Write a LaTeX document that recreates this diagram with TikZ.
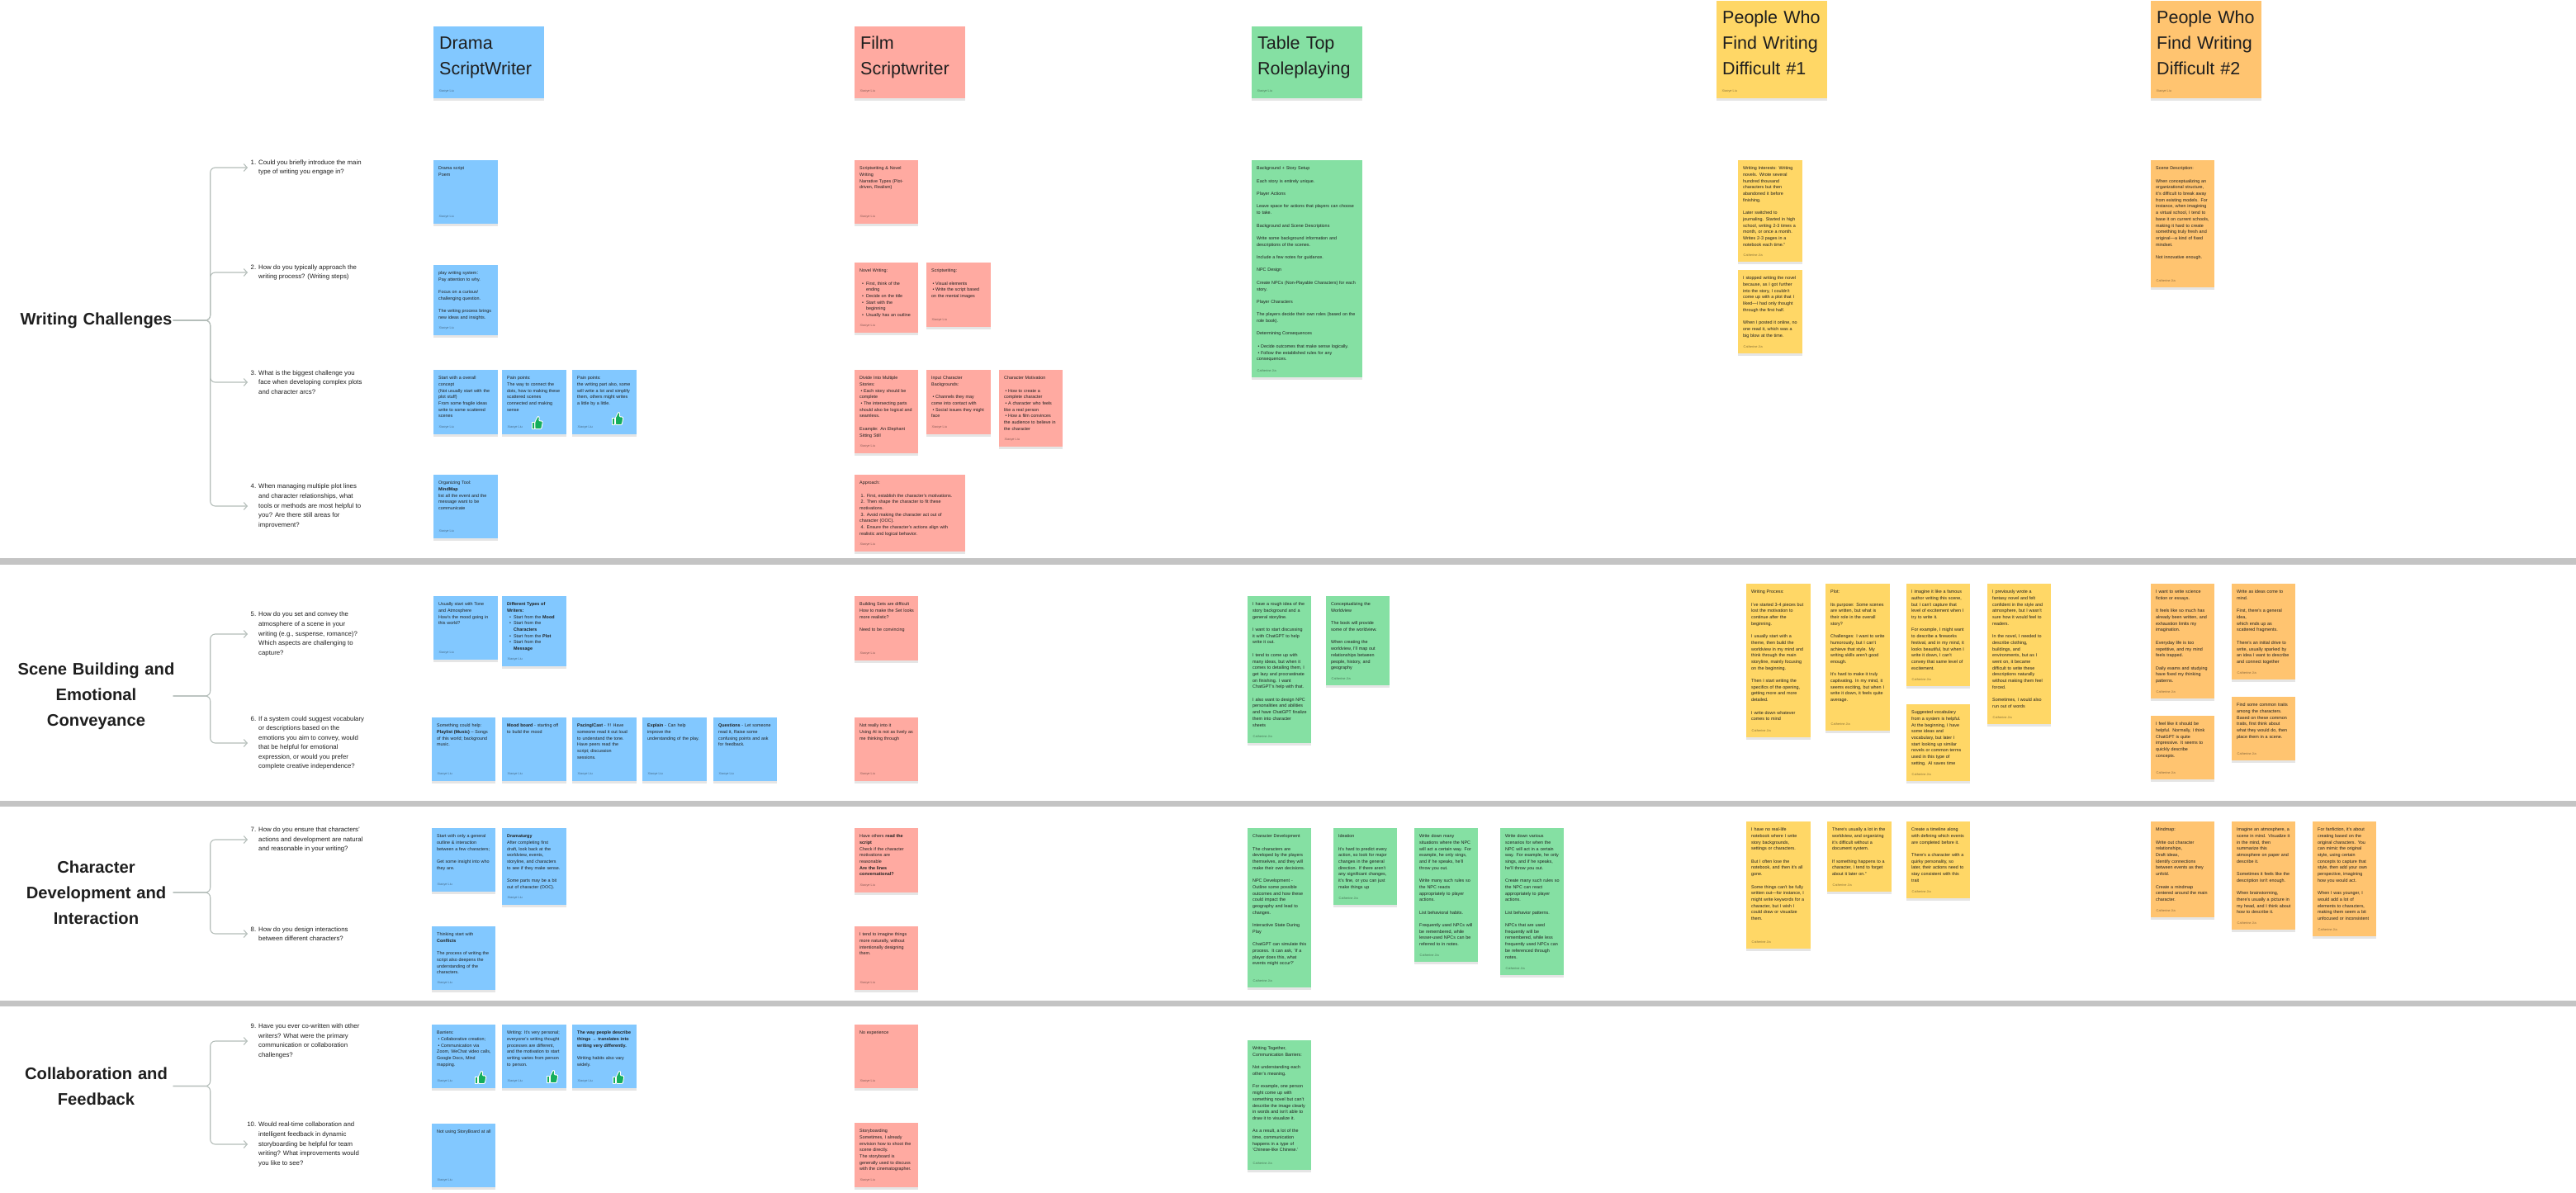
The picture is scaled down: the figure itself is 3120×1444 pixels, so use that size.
\documentclass[tikz,border=0pt]{standalone}
\usepackage{fontspec}
\setmainfont{Liberation Sans}
\newfontfamily\cjk{Noto Sans CJK SC}
\usetikzlibrary{arrows.meta,positioning,shadows}
\definecolor{noteblue}{HTML}{82C8FF}
\definecolor{notered}{HTML}{FFAAA1}
\definecolor{notegreen}{HTML}{85E0A3}
\definecolor{noteyellow}{HTML}{FFD766}
\definecolor{noteorange}{HTML}{FFC470}
\definecolor{inkdark}{HTML}{1E1E1E}
\definecolor{linkgrey}{HTML}{B4BDB9}
\definecolor{bargrey}{HTML}{C4C4C4}
\definecolor{thumbgreen}{HTML}{14AE5C}
\newcommand{\gapl}{\\[7.7pt]}
\newcommand{\qn}[1]{\makebox[13pt][r]{#1\hspace{3pt}}}
\newcommand{\qi}{\hspace*{13pt}}
\newcommand{\bl}{\hspace*{1.5pt}\textbullet\hspace{1.5pt}}
\newcommand{\bm}{\hspace*{3pt}\textbullet\hspace{3pt}}
\newcommand{\bc}{\hspace*{8pt}}

\begin{document}
\begin{tikzpicture}[
    x=1pt, y=-1pt,
    note/.style 2 args={anchor=north west, inner xsep=6pt, inner ysep=6pt, text=inkdark, align=left,
                font=\fontsize{5.4}{7.7}\selectfont, text height=5.5pt,
                text width={#1pt-12pt}, text depth={#2pt-17.5pt},
                execute at begin node={\rightskip=-6pt plus 1fil\relax},
                drop shadow={shadow xshift=0pt, shadow yshift=-2.5pt, opacity=.1, fill=black}},
    head/.style 2 args={anchor=north west, inner xsep=7pt, inner ysep=7pt, text=inkdark, align=left,
                font=\fontsize{21.5}{30.7}\selectfont, text height=20.5pt,
                text width=120pt, text depth={#2pt-34.5pt},
                drop shadow={shadow xshift=0pt, shadow yshift=-2.5pt, opacity=.1, fill=black}},
    sign/.style={above right=6.5pt and 6.5pt of #1.south west, inner sep=0pt, text=black, text opacity=.45,
                font=\fontsize{3.9}{4.5}\selectfont},
    topic/.style={align=center, text width=186pt, inner sep=0pt, text=inkdark,
                font=\fontsize{20.2}{31}\selectfont\bfseries},
    ask/.style={anchor=west, align=left, inner sep=0pt, text=inkdark, font=\fontsize{7.8}{11.55}\selectfont},
    link/.style={-{Straight Barb[length=4pt,width=9pt]}, line width=1.1pt, color=linkgrey, rounded corners=6pt},
    bar/.style={fill=bargrey},
    thumb/.pic={
      \path[fill=thumbgreen, draw=white, line width=.9pt, line join=round]
        (-6.5,-1) rectangle (-3.4,7.5);
      \path[fill=thumbgreen, draw=white, line width=.9pt, line join=round, rounded corners=1pt]
        (-2.6,-1) -- (0.4,-7) -- (1.8,-8) -- (2.8,-6.5) -- (2.2,-2.2) -- (6,-2.2) -- (6.8,-.6) -- (5.2,7.5) -- (-2.6,7.5) -- cycle;
    }
  ]
  \useasboundingbox (0,0) rectangle (3120,1444);

  % section bars
  \fill[bar] (0,676) rectangle (3120,684);
  \fill[bar] (0,970) rectangle (3120,977);
  \fill[bar] (0,1212) rectangle (3120,1219);

  % topics
  \node[topic] (wc) at (116.5,388) {Writing Challenges};
  \node[topic] (sb) at (116.5,843) {\makebox[186pt][c]{Scene Building and}\\Emotional\\Conveyance};
  \node[topic] (cd) at (116.5,1081) {Character\\Development and\\Interaction};
  \node[topic] (cf) at (116.5,1315.5) {Collaboration and\\Feedback};

  % questions
  \node[ask] (q1) at (300,203) {\qn{1.}Could you briefly introduce the main\\\qi type of writing you engage in?};
  \node[ask] (q2) at (300,330) {\qn{2.}How do you typically approach the\\\qi writing process? (Writing steps)};
  \node[ask] (q3) at (300,463) {\qn{3.}What is the biggest challenge you\\\qi face when developing complex plots\\\qi and character arcs?};
  \node[ask] (q4) at (300,613) {\qn{4.}When managing multiple plot lines\\\qi and character relationships, what\\\qi tools or methods are most helpful to\\\qi you? Are there still areas for\\\qi improvement?};
  \node[ask] (q5) at (300,768) {\qn{5.}How do you set and convey the\\\qi atmosphere of a scene in your\\\qi writing (e.g., suspense, romance)?\\\qi Which aspects are challenging to\\\qi capture?};
  \node[ask] (q6) at (300,900) {\qn{6.}If a system could suggest vocabulary\\\qi or descriptions based on the\\\qi emotions you aim to convey, would\\\qi that be helpful for emotional\\\qi expression, or would you prefer\\\qi complete creative independence?};
  \node[ask] (q7) at (300,1017) {\qn{7.}How do you ensure that characters'\\\qi actions and development are natural\\\qi and reasonable in your writing?};
  \node[ask] (q8) at (300,1131) {\qn{8.}How do you design interactions\\\qi between different characters?};
  \node[ask] (q9) at (300,1261) {\qn{9.}Have you ever co-written with other\\\qi writers? What were the primary\\\qi communication or collaboration\\\qi challenges?};
  \node[ask] (q10) at (300,1386) {\qn{10.}Would real-time collaboration and\\\qi intelligent feedback in dynamic\\\qi storyboarding be helpful for team\\\qi writing? What improvements would\\\qi you like to see?};

  \draw[link] (wc.east) -- ++(45,0) |- (q1.west);
  \draw[link] (wc.east) -- ++(45,0) |- (q2.west);
  \draw[link] (wc.east) -- ++(45,0) |- (q3.west);
  \draw[link] (wc.east) -- ++(45,0) |- (q4.west);
  \draw[link] (sb.east) -- ++(45,0) |- (q5.west);
  \draw[link] (sb.east) -- ++(45,0) |- (q6.west);
  \draw[link] (cd.east) -- ++(45,0) |- (q7.west);
  \draw[link] (cd.east) -- ++(45,0) |- (q8.west);
  \draw[link] (cf.east) -- ++(45,0) |- (q9.west);
  \draw[link] (cf.east) -- ++(45,0) |- (q10.west);

  % drama scriptwriter
  \node[head={134}{87}, fill=noteblue] (dh) at (525,32) {Drama\\ScriptWriter};
  \node[sign=dh] (dhs) {Xiaoye Liu};
  \node[note={78}{77}, fill=noteblue] (d1) at (525,194) {Drama script\\Poem};
  \node[sign=d1] (d1s) {Xiaoye Liu};
  \node[note={78}{85}, fill=noteblue] (d2) at (525,321) {play writing system{\cjk：}\\Pay attention to why.\gapl Focus on a curious/\\challenging question.\gapl The writing process brings\\new ideas and insights.};
  \node[sign=d2] (d2s) {Xiaoye Liu};
  \node[note={78}{78}, fill=noteblue] (d3a) at (525,448) {Start with a overall\\concept\\(Not usually start with the\\plot stuff)\\From some fragile ideas\\write to some scattered\\scenes};
  \node[sign=d3a] (d3as) {Xiaoye Liu};
  \node[note={78}{78}, fill=noteblue] (d3b) at (608,448) {Pain points:\\The way to connect the\\dots, how to making these\\scattered scenes\\connected and making\\sense};
  \node[sign=d3b] (d3bs) {Xiaoye Liu};
  \node[note={78}{78}, fill=noteblue] (d3c) at (693,448) {Pain points:\\the writing part also, some\\will write a lot and simplify\\them, others might writes\\a little by a little.};
  \node[sign=d3c] (d3cs) {Xiaoye Liu};
  \node[note={78}{77}, fill=noteblue] (d4) at (525,575) {Organizing Tool:\\\textbf{MindMap}\\list all the event and the\\message want to be\\communicate};
  \node[sign=d4] (d4s) {Xiaoye Liu};
  \node[note={78}{77}, fill=noteblue] (d5a) at (525,722) {Usually start with Tone\\and Atmosphere\\How's the mood going in\\this world?};
  \node[sign=d5a] (d5as) {Xiaoye Liu};
  \node[note={78}{85}, fill=noteblue] (d5b) at (608,722) {\textbf{Different Types of}\\\textbf{Writers:}\\\bm Start from the \textbf{Mood}\\\bm Start from the\\\bc\textbf{Characters}\\\bm Start from the \textbf{Plot}\\\bm Start from the\\\bc\textbf{Message}};
  \node[sign=d5b] (d5bs) {Xiaoye Liu};
  \node[note={77}{77}, fill=noteblue] (d6a) at (523,869) {Something could help:\\\textbf{Playlist (Music)} – Songs\\of this world; background\\music.};
  \node[sign=d6a] (d6as) {Xiaoye Liu};
  \node[note={78}{77}, fill=noteblue] (d6b) at (608,869) {\textbf{Mood board} - starting off\\to build the mood};
  \node[sign=d6b] (d6bs) {Xiaoye Liu};
  \node[note={78}{77}, fill=noteblue] (d6c) at (693,869) {\textbf{Pacing/Cast} - !!! Have\\someone read it out loud\\to understand the tone.\\Have peers read the\\script; discussion\\sessions.};
  \node[sign=d6c] (d6cs) {Xiaoye Liu};
  \node[note={78}{77}, fill=noteblue] (d6d) at (778,869) {\textbf{Explain} - Can help\\improve the\\understanding of the play.};
  \node[sign=d6d] (d6ds) {Xiaoye Liu};
  \node[note={77}{77}, fill=noteblue] (d6e) at (864,869) {\textbf{Questions} - Let someone\\read it, Raise some\\confusing points and ask\\for feedback.};
  \node[sign=d6e] (d6es) {Xiaoye Liu};
  \node[note={77}{77}, fill=noteblue] (d7a) at (523,1003) {Start with only a general\\outline \& interaction\\between a few characters;\gapl Get some insight into who\\they are.};
  \node[sign=d7a] (d7as) {Xiaoye Liu};
  \node[note={78}{93}, fill=noteblue] (d7b) at (608,1003) {\textbf{Dramaturgy}\\After completing first\\draft, look back at the\\worldview, events,\\storyline, and characters\\to see if they make sense.\gapl Some parts may be a bit\\out of character (OOC).};
  \node[sign=d7b] (d7bs) {Xiaoye Liu};
  \node[note={77}{77}, fill=noteblue] (d8) at (523,1122) {Thinking start with\\\textbf{Conflicts}\gapl The process of writing the\\script also deepens the\\understanding of the\\characters.};
  \node[sign=d8] (d8s) {Xiaoye Liu};
  \node[note={77}{77}, fill=noteblue] (d9a) at (523,1241) {Barriers:\\\bl Collaborative creation;\\\bl Communication via\\Zoom, WeChat video calls,\\Google Docs, Mind\\mapping.};
  \node[sign=d9a] (d9as) {Xiaoye Liu};
  \node[note={78}{77}, fill=noteblue] (d9b) at (608,1241) {Writing: It's very personal;\\everyone's writing thought\\processes are different,\\and the motivation to start\\writing varies from person\\to person.};
  \node[sign=d9b] (d9bs) {Xiaoye Liu};
  \node[note={78}{77}, fill=noteblue] (d9c) at (693,1241) {\textbf{The way people describe}\\\textbf{things → translates into}\\\textbf{writing very differently.}\gapl Writing habits also vary\\widely.};
  \node[sign=d9c] (d9cs) {Xiaoye Liu};
  \node[note={77}{77}, fill=noteblue] (d10) at (523,1361) {Not using StoryBoard at all};
  \node[sign=d10] (d10s) {Xiaoye Liu};
  \pic at (650.5,512) {thumb};
  \pic at (748,507) {thumb};
  \pic at (582,1305) {thumb};
  \pic at (669,1304) {thumb};
  \pic at (749,1305) {thumb};

  % film scriptwriter
  \node[head={134}{87}, fill=notered] (fh) at (1035,32) {Film\\Scriptwriter};
  \node[sign=fh] (fhs) {Xiaoye Liu};
  \node[note={77}{77}, fill=notered] (f1) at (1035,194) {Scriptwriting \& Novel\\Writing\\Narrative Types (Plot-\\driven, Realism)};
  \node[sign=f1] (f1s) {Xiaoye Liu};
  \node[note={77}{85}, fill=notered] (f2a) at (1035,318) {Novel Writing:\gapl\bm First, think of the\\\bc ending\\\bm Decide on the title\\\bm Start with the\\\bc beginning\\\bm Usually has an outline};
  \node[sign=f2a] (f2as) {Xiaoye Liu};
  \node[note={78}{78}, fill=notered] (f2b) at (1122,318) {Scriptwriting:\gapl\bl Visual elements\\\bl Write the script based\\on the mental images};
  \node[sign=f2b] (f2bs) {Xiaoye Liu};
  \node[note={77}{101}, fill=notered] (f3a) at (1035,448) {Divide Into Multiple\\Stories:\\\bl Each story should be\\complete\\\bl The intersecting parts\\should also be logical and\\seamless.\gapl Example: An Elephant\\Sitting Still};
  \node[sign=f3a] (f3as) {Xiaoye Liu};
  \node[note={78}{78}, fill=notered] (f3b) at (1122,448) {Input Character\\Backgrounds:\gapl\bl Channels they may\\come into contact with\\\bl Social issues they might\\face};
  \node[sign=f3b] (f3bs) {Xiaoye Liu};
  \node[note={77}{93}, fill=notered] (f3c) at (1210,448) {Character Motivation\gapl\bl How to create a\\complete character\\\bl A character who feels\\like a real person\\\bl How a film convinces\\the audience to believe in\\the character};
  \node[sign=f3c] (f3cs) {Xiaoye Liu};
  \node[note={134}{93}, fill=notered] (f4) at (1035,575) {Approach:\gapl\hspace*{1.5pt}1. First, establish the character's motivations.\\\hspace*{1.5pt}2. Then shape the character to fit these\\motivations.\\\hspace*{1.5pt}3. Avoid making the character act out of\\character (OOC).\\\hspace*{1.5pt}4. Ensure the character's actions align with\\realistic and logical behavior.};
  \node[sign=f4] (f4s) {Xiaoye Liu};
  \node[note={77}{78}, fill=notered] (f5) at (1035,722) {Building Sets are difficult\\How to make the Set looks\\more realistic?\gapl Need to be convincing};
  \node[sign=f5] (f5s) {Xiaoye Liu};
  \node[note={77}{77}, fill=notered] (f6) at (1035,869) {Not really into it\\Using AI is not as lively as\\me thinking through};
  \node[sign=f6] (f6s) {Xiaoye Liu};
  \node[note={77}{78}, fill=notered] (f7) at (1035,1003) {Have others \textbf{read the}\\\textbf{script}\\Check if the character\\motivations are\\reasonable\\\textbf{Are the lines}\\\textbf{conversational?}};
  \node[sign=f7] (f7s) {Xiaoye Liu};
  \node[note={77}{77}, fill=notered] (f8) at (1035,1122) {I tend to imagine things\\more naturally, without\\intentionally designing\\them.};
  \node[sign=f8] (f8s) {Xiaoye Liu};
  \node[note={77}{77}, fill=notered] (f9) at (1035,1241) {No experience};
  \node[sign=f9] (f9s) {Xiaoye Liu};
  \node[note={77}{78}, fill=notered] (f10) at (1035,1360) {Storyboarding\\Sometimes, I already\\envision how to shoot the\\scene directly.\\The storyboard is\\generally used to discuss\\with the cinematographer.};
  \node[sign=f10] (f10s) {Xiaoye Liu};

  % table top roleplaying
  \node[head={134}{87}, fill=notegreen] (gh) at (1516,32) {Table Top\\Roleplaying};
  \node[sign=gh] (ghs) {Xiaoye Liu};
  \node[note={134}{263}, fill=notegreen] (g1) at (1516,194) {Background + Story Setup\gapl Each story is entirely unique.\gapl Player Actions\gapl Leave space for actions that players can choose\\to take.\gapl Background and Scene Descriptions\gapl Write some background information and\\descriptions of the scenes.\gapl Include a few notes for guidance.\gapl NPC Design\gapl Create NPCs (Non-Playable Characters) for each\\story.\gapl Player Characters\gapl The players decide their own roles (based on the\\role book).\gapl Determining Consequences\gapl\bl Decide outcomes that make sense logically.\\\bl Follow the established rules for any\\consequences.};
  \node[sign=g1] (g1s) {Catherine Jia};
  \node[note={77}{178}, fill=notegreen] (g2) at (1511,722) {I have a rough idea of the\\story background and a\\general storyline.\gapl I want to start discussing\\it with ChatGPT to help\\write it out.\gapl I tend to come up with\\many ideas, but when it\\comes to detailing them, I\\get lazy and procrastinate\\on finishing. I want\\ChatGPT's help with that.\gapl I also want to design NPC\\personalities and abilities\\and have ChatGPT finalize\\them into character\\sheets};
  \node[sign=g2] (g2s) {Catherine Jia};
  \node[note={77}{108}, fill=notegreen] (g3) at (1606,722) {Conceptualizing the\\Worldview\gapl The book will provide\\some of the worldview.\gapl When creating the\\worldview, I'll map out\\relationships between\\people, history, and\\geography};
  \node[sign=g3] (g3s) {Catherine Jia};
  \node[note={77}{193}, fill=notegreen] (g4) at (1511,1003) {Character Development\gapl The characters are\\developed by the players\\themselves, and they will\\make their own decisions.\gapl NPC Development -\\Outline some possible\\outcomes and how these\\could impact the\\geography and lead to\\changes.\gapl Interactive State During\\Play\gapl ChatGPT can simulate this\\process. It can ask, 'If a\\player does this, what\\events might occur?'};
  \node[sign=g4] (g4s) {Catherine Jia};
  \node[note={77}{93}, fill=notegreen] (g5) at (1615,1003) {Ideation\gapl It's hard to predict every\\action, so look for major\\changes in the general\\direction. If there aren't\\any significant changes,\\it's fine, or you can just\\make things up};
  \node[sign=g5] (g5s) {Catherine Jia};
  \node[note={77}{162}, fill=notegreen] (g6) at (1713,1003) {Write down many\\situations where the NPC\\will act a certain way. For\\example, he only sings,\\and if he speaks, he'll\\throw you out.\gapl Write many such rules so\\the NPC reacts\\appropriately to player\\actions.\gapl List behavioral habits.\gapl Frequently used NPCs will\\be remembered, while\\lesser-used NPCs can be\\referred to in notes.};
  \node[sign=g6] (g6s) {Catherine Jia};
  \node[note={77}{178}, fill=notegreen] (g7) at (1817,1003) {Write down various\\scenarios for when the\\NPC will act in a certain\\way. For example, he only\\sings, and if he speaks,\\he'll throw you out.\gapl Create many such rules so\\the NPC can react\\appropriately to player\\actions.\gapl List behavior patterns.\gapl NPCs that are used\\frequently will be\\remembered, while less\\frequently used NPCs can\\be referenced through\\notes.};
  \node[sign=g7] (g7s) {Catherine Jia};
  \node[note={77}{157}, fill=notegreen] (g8) at (1511,1260) {Writing Together,\\Communication Barriers:\gapl Not understanding each\\other's meaning.\gapl For example, one person\\might come up with\\something novel but can't\\describe the image clearly\\in words and isn't able to\\draw it to visualize it.\gapl As a result, a lot of the\\time, communication\\happens in a type of\\'Chinese-like Chinese.'};
  \node[sign=g8] (g8s) {Catherine Jia};

  % people who find writing difficult 1
  \node[head={132}{118}, fill=noteyellow] (yh) at (2079,1) {People Who\\Find Writing\\Difficult \#1};
  \node[sign=yh] (yhs) {Xiaoye Liu};
  \node[note={78}{123}, fill=noteyellow] (y1) at (2105,194) {Writing Interests: Writing\\novels. Wrote several\\hundred thousand\\characters but then\\abandoned it before\\finishing.\gapl Later switched to\\journaling. Started in high\\school, writing 2-3 times a\\month, or once a month.\\Writes 2-3 pages in a\\notebook each time."};
  \node[sign=y1] (y1s) {Catherine Jia};
  \node[note={78}{101}, fill=noteyellow] (y2) at (2105,327) {I stopped writing the novel\\because, as I got further\\into the story, I couldn't\\come up with a plot that I\\liked—I had only thought\\through the first half.\gapl When I posted it online, no\\one read it, which was a\\big blow at the time.};
  \node[sign=y2] (y2s) {Catherine Jia};
  \node[note={78}{186}, fill=noteyellow] (y3) at (2115,707) {Writing Process:\gapl I've started 3-4 pieces but\\lost the motivation to\\continue after the\\beginning.\gapl I usually start with a\\theme, then build the\\worldview in my mind and\\think through the main\\storyline, mainly focusing\\on the beginning.\gapl Then I start writing the\\specifics of the opening,\\getting more and more\\detailed.\gapl I write down whatever\\comes to mind};
  \node[sign=y3] (y3s) {Catherine Jia};
  \node[note={78}{178}, fill=noteyellow] (y4) at (2211,707) {Plot:\gapl Its purpose: Some scenes\\are written, but what is\\their role in the overall\\story?\gapl Challenges: I want to write\\humorously, but I can't\\achieve that style. My\\writing skills aren't good\\enough.\gapl It's hard to make it truly\\captivating. In my mind, it\\seems exciting, but when I\\write it down, it feels quite\\average.};
  \node[sign=y4] (y4s) {Catherine Jia};
  \node[note={77}{124}, fill=noteyellow] (y5) at (2309,707) {I imagine it like a famous\\author writing this scene,\\but I can't capture that\\level of excitement when I\\try to write it.\gapl For example, I might want\\to describe a fireworks\\festival, and in my mind, it\\looks beautiful, but when I\\write it down, I can't\\convey that same level of\\excitement.};
  \node[sign=y5] (y5s) {Catherine Jia};
  \node[note={77}{93}, fill=noteyellow] (y6) at (2309,853) {Suggested vocabulary\\from a system is helpful.\\At the beginning, I have\\some ideas and\\vocabulary, but later I\\start looking up similar\\novels or common terms\\used in this type of\\setting. AI saves time};
  \node[sign=y6] (y6s) {Catherine Jia};
  \node[note={77}{170}, fill=noteyellow] (y7) at (2407,707) {I previously wrote a\\fantasy novel and felt\\confident in the style and\\atmosphere, but I wasn't\\sure how it would feel to\\readers.\gapl In the novel, I needed to\\describe clothing,\\buildings, and\\environments, but as I\\went on, it became\\difficult to write these\\descriptions naturally\\without making them feel\\forced.\gapl Sometimes, I would also\\run out of words};
  \node[sign=y7] (y7s) {Catherine Jia};
  \node[note={78}{154}, fill=noteyellow] (y8) at (2115,995) {I have no real-life\\notebook where I write\\story backgrounds,\\settings or characters.\gapl But I often lose the\\notebook, and then it's all\\gone.\gapl Some things can't be fully\\written out—for instance, I\\might write keywords for a\\character, but I wish I\\could draw or visualize\\them.};
  \node[sign=y8] (y8s) {Catherine Jia};
  \node[note={78}{85}, fill=noteyellow] (y9) at (2213,995) {There's usually a lot in the\\worldview, and organizing\\it's difficult without a\\document system.\gapl If something happens to a\\character, I tend to forget\\about it later on."};
  \node[sign=y9] (y9s) {Catherine Jia};
  \node[note={77}{93}, fill=noteyellow] (y10) at (2309,995) {Create a timeline along\\with defining which events\\are completed before it.\gapl There's a character with a\\quirky personality, so\\later, their actions need to\\stay consistent with this\\trait};
  \node[sign=y10] (y10s) {Catherine Jia};

  % people who find writing difficult 2
  \node[head={135}{118}, fill=noteorange] (oh) at (2605,1) {People Who\\Find Writing\\Difficult \#2};
  \node[sign=oh] (ohs) {Xiaoye Liu};
  \node[note={77}{154}, fill=noteorange] (o1) at (2605,194) {Scene Description:\gapl When conceptualizing an\\organizational structure,\\it's difficult to break away\\from existing models. For\\instance, when imagining\\a virtual school, I tend to\\base it on current schools,\\making it hard to create\\something truly fresh and\\original—a kind of fixed\\mindset.\gapl Not innovative enough.};
  \node[sign=o1] (o1s) {Catherine Jia};
  \node[note={77}{139}, fill=noteorange] (o2) at (2605,707) {I want to write science\\fiction or essays.\gapl It feels like so much has\\already been written, and\\exhaustion limits my\\imagination.\gapl Everyday life is too\\repetitive, and my mind\\feels trapped.\gapl Daily exams and studying\\have fixed my thinking\\patterns.};
  \node[sign=o2] (o2s) {Catherine Jia};
  \node[note={77}{116}, fill=noteorange] (o3) at (2703,707) {Write as ideas come to\\mind.\gapl First, there's a general\\idea,\\which ends up as\\scattered fragments.\gapl There's an initial drive to\\write, usually sparked by\\an idea I want to describe\\and connect together};
  \node[sign=o3] (o3s) {Catherine Jia};
  \node[note={77}{77}, fill=noteorange] (o4) at (2605,867) {I feel like it should be\\helpful. Normally, I think\\ChatGPT is quite\\impressive. It seems to\\quickly describe\\concepts.};
  \node[sign=o4] (o4s) {Catherine Jia};
  \node[note={77}{77}, fill=noteorange] (o5) at (2703,844) {Find some common traits\\among the characters.\\Based on these common\\traits, first think about\\what they would do, then\\place them in a scene.};
  \node[sign=o5] (o5s) {Catherine Jia};
  \node[note={77}{116}, fill=noteorange] (o6) at (2605,995) {Mindmap:\gapl Write out character\\relationships,\\Draft ideas,\\Identify connections\\between events as they\\unfold.\gapl Create a mindmap\\centered around the main\\character.};
  \node[sign=o6] (o6s) {Catherine Jia};
  \node[note={77}{131}, fill=noteorange] (o7) at (2703,995) {Imagine an atmosphere, a\\scene in mind. Visualize it\\in the mind, then\\summarize this\\atmosphere on paper and\\describe it.\gapl Sometimes it feels like the\\description isn't enough.\gapl When brainstorming,\\there's usually a picture in\\my head, and I think about\\how to describe it.};
  \node[sign=o7] (o7s) {Catherine Jia};
  \node[note={77}{139}, fill=noteorange] (o8) at (2801,995) {For fanfiction, it's about\\creating based on the\\original characters. You\\can mimic the original\\style, using certain\\concepts to capture that\\style, then add your own\\perspective, imagining\\how you would act.\gapl When I was younger, I\\would add a lot of\\elements to characters,\\making them seem a bit\\unfocused or inconsistent};
  \node[sign=o8] (o8s) {Catherine Jia};
\end{tikzpicture}
\end{document}
